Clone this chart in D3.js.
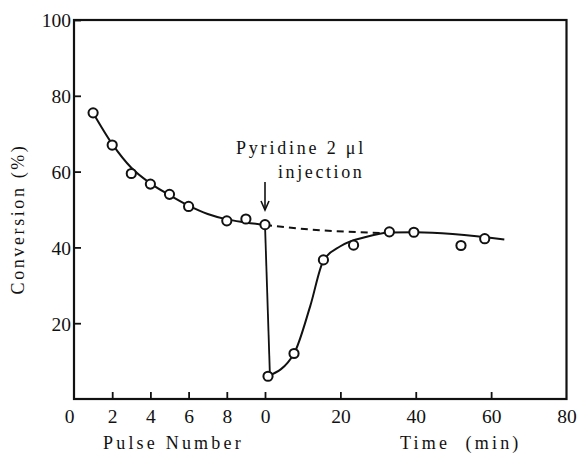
<!DOCTYPE html>
<html>
<head>
<meta charset="utf-8">
<script src="https://cdn.jsdelivr.net/npm/d3@7"></script>
<style>
  body { margin: 0; background: #fff; }
  svg text { fill: #111; }
</style>
</head>
<body>
<svg id="chart" width="578" height="465"></svg>
<script>
// measured points, pulse part (x = pulse number)
var pulseNums = [1, 2, 3, 4, 5, 6, 8, 9, 10];
var pulseConv = [75.5, 67, 59.5, 56.7, 54, 50.8, 47, 47.5, 46];
// smooth line drawn through the pulse points
var pulseLineX = [1, 2, 3, 4, 5, 6, 7, 8, 9, 10];
var pulseLineY = [75.5, 67.3, 61, 56.9, 53.8, 51, 48.8, 47.4, 46.6, 45.9];

// measured points after pyridine injection (x = time, min)
var timeMin = [0.8, 7.7, 15.5, 23.5, 33, 39.5, 52, 58.3];
var timeConv = [6, 12, 36.7, 40.6, 44.1, 44, 40.5, 42.3];
// recovery curve
var recovLineX = [0.8, 7.7, 12, 15.5, 20, 27, 33, 40, 63.5];
var recovLineY = [6, 12, 24.5, 36.5, 40.3, 42.8, 43.9, 44, 42.1];
// drop at injection
var dropX = [0, 1.3];
var dropY = [45.9, 6.5];
// dashed extrapolation of the pulse curve
var dashX = [0, 15, 31];
var dashY = [45.9, 44.5, 43.8];

var yTicks = [20, 40, 60, 80, 100];
var pulseTicks = [0, 2, 4, 6, 8];
var timeTicks = [0, 20, 40, 60, 80];

var SERIF = '"Liberation Serif", "DejaVu Serif", serif';

var svg = d3.select('#chart');

var xPulse = d3.scaleLinear().domain([0, 10]).range([74, 265]);
var xTime = d3.scaleLinear().domain([0, 80]).range([265, 566.5]);
var y = d3.scaleLinear().domain([0, 100]).range([399, 20]);

// frame
svg.append('rect')
    .attr('x', 74).attr('y', 20)
    .attr('width', 566.5 - 74).attr('height', 399 - 20)
    .attr('fill', 'none').attr('stroke', '#111').attr('stroke-width', 2.2);

// y axis
var yAxis = svg.append('g')
    .attr('transform', 'translate(74,0)')
    .call(d3.axisLeft(y).tickValues(yTicks).tickSize(-7).tickPadding(12));
yAxis.select('.domain').remove();
yAxis.selectAll('line').attr('stroke', '#111').attr('stroke-width', 1.8);
yAxis.selectAll('text').attr('x', -3).attr('dy', '0.35em');

// bottom axes: pulse and time share the baseline
var pAxis = svg.append('g')
    .attr('transform', 'translate(0,399)')
    .call(d3.axisBottom(xPulse).tickValues(pulseTicks).tickSize(-7).tickPadding(10));
var tAxis = svg.append('g')
    .attr('transform', 'translate(0,399)')
    .call(d3.axisBottom(xTime).tickValues(timeTicks).tickSize(-7).tickPadding(10));
[pAxis, tAxis].forEach(function(ax) {
    ax.select('.domain').remove();
    ax.selectAll('line').attr('stroke', '#111').attr('stroke-width', 1.8);
});
pAxis.selectAll('.tick').filter(function(d) { return d === 0; })
    .select('line').remove();
pAxis.selectAll('.tick').filter(function(d) { return d === 0; })
    .select('text').attr('x', -5);
tAxis.selectAll('.tick').filter(function(d) { return d === 80; })
    .select('line').remove();
[yAxis, pAxis, tAxis].forEach(function(ax) {
    ax.attr('font-family', SERIF).attr('font-size', 19);
    ax.selectAll('text').style('font-family', SERIF).style('font-size', '19.5px');
});

// axis titles
svg.append('text')
    .attr('transform', 'translate(24,219) rotate(-90)')
    .attr('text-anchor', 'middle')
    .style('font-family', SERIF)
    .style('font-size', '18px').style('letter-spacing', '2.6px')
    .text('Conversion (%)');
svg.append('text')
    .attr('x', 103).attr('y', 449)
    .style('font-family', SERIF)
    .style('font-size', '18px').style('letter-spacing', '3.2px')
    .text('Pulse Number');
svg.append('text')
    .attr('x', 400).attr('y', 449)
    .style('font-family', SERIF)
    .style('font-size', '18px').style('letter-spacing', '3.2px')
    .text('Time\u00a0\u00a0(min)');

// lines
var pulseLine = d3.line()
    .x(function(d) { return xPulse(d[0]); })
    .y(function(d) { return y(d[1]); })
    .curve(d3.curveMonotoneX);
var timeLine = d3.line()
    .x(function(d) { return xTime(d[0]); })
    .y(function(d) { return y(d[1]); })
    .curve(d3.curveMonotoneX);

var zip = function(a, b) { return a.map(function(v, i) { return [v, b[i]]; }); };

svg.append('path')
    .attr('d', pulseLine(zip(pulseLineX, pulseLineY)))
    .attr('fill', 'none').attr('stroke', '#111').attr('stroke-width', 2);
svg.append('path')
    .attr('d', timeLine(zip(dropX, dropY)))
    .attr('fill', 'none').attr('stroke', '#111').attr('stroke-width', 1.8);
svg.append('path')
    .attr('d', timeLine(zip(recovLineX, recovLineY)))
    .attr('fill', 'none').attr('stroke', '#111').attr('stroke-width', 2);
svg.append('path')
    .attr('d', timeLine(zip(dashX, dashY)))
    .attr('fill', 'none').attr('stroke', '#111').attr('stroke-width', 2)
    .attr('stroke-dasharray', '7,5');

// points
svg.selectAll('.ppt').data(zip(pulseNums, pulseConv)).enter()
    .append('circle').attr('class', 'ppt')
    .attr('cx', function(d) { return xPulse(d[0]); })
    .attr('cy', function(d) { return y(d[1]); })
    .attr('r', 4.6)
    .attr('fill', '#fff').attr('stroke', '#111').attr('stroke-width', 2);
svg.selectAll('.tpt').data(zip(timeMin, timeConv)).enter()
    .append('circle').attr('class', 'tpt')
    .attr('cx', function(d) { return xTime(d[0]); })
    .attr('cy', function(d) { return y(d[1]); })
    .attr('r', 4.6)
    .attr('fill', '#fff').attr('stroke', '#111').attr('stroke-width', 2);

// injection arrow + note
var ax0 = xTime(0);
svg.append('line')
    .attr('x1', ax0).attr('x2', ax0).attr('y1', 182).attr('y2', 210)
    .attr('stroke', '#111').attr('stroke-width', 1.6);
svg.append('path')
    .attr('d', 'M' + (ax0 - 4) + ',201 L' + ax0 + ',210 L' + (ax0 + 4) + ',201')
    .attr('fill', 'none').attr('stroke', '#111').attr('stroke-width', 1.6);
svg.append('text')
    .attr('x', 236).attr('y', 154)
    .style('font-family', SERIF)
    .style('font-size', '18px').style('letter-spacing', '2.8px')
    .text('Pyridine 2\u00a0\u03bcl');
svg.append('text')
    .attr('x', 278).attr('y', 178)
    .style('font-family', SERIF)
    .style('font-size', '18px').style('letter-spacing', '2.6px')
    .text('injection');
</script>
</body>
</html>
